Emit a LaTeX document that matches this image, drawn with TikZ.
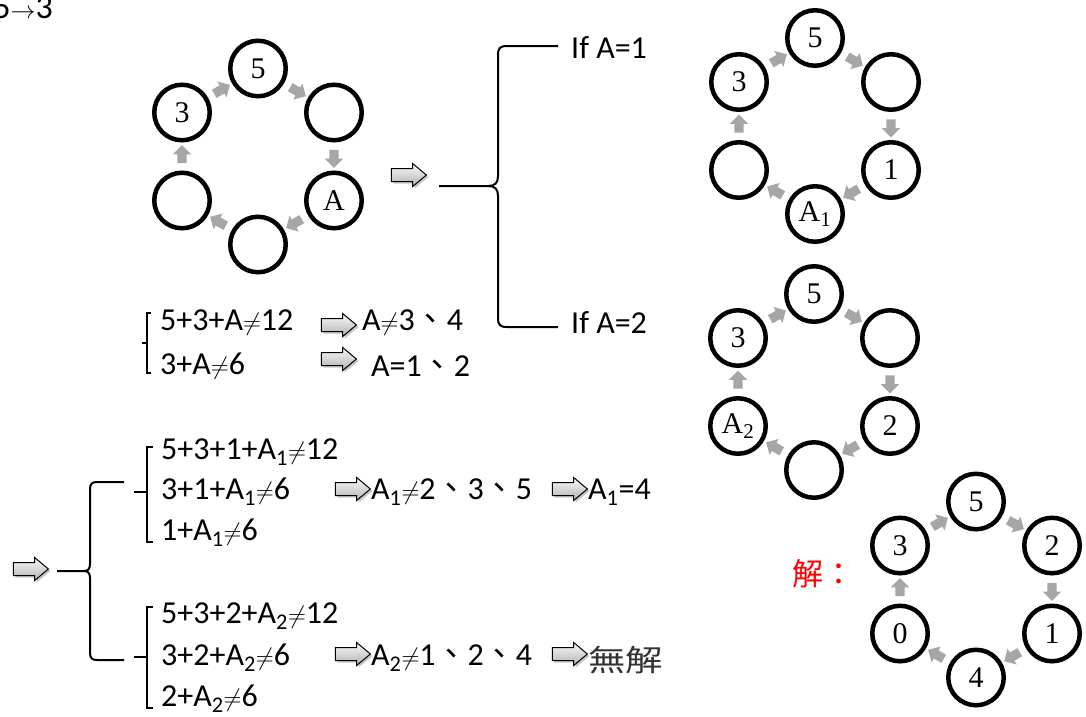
\documentclass[tikz,border=0pt]{standalone}
\usepackage{fontspec}
\usepackage{graphicx}
\setmainfont{Carlito}
\newfontfamily\ringfont{Liberation Serif}
\newfontfamily\cjk{Noto Sans CJK TC}
\usetikzlibrary{shapes.arrows,shadows,calc}
\definecolor{arrowgray}{HTML}{A6A6A6}
\newcommand\nq{\ensuremath{\neq}}
\newcommand\dun{{\cjk 、}}
\tikzset{
  ring/.style={circle, draw, line width=4.5pt, minimum size=55.5pt, inner sep=0pt,
    font=\ringfont\fontsize{30}{30}\selectfont},
  sarr/.style={single arrow, fill=arrowgray, draw=none, inner sep=4.5pt, minimum width=17pt,
    minimum height=18pt, single arrow head extend=4.5pt, sloped, allow upside down, anchor=center},
  bigarr/.style={single arrow, draw=black, line width=1pt, top color=gray!5, bottom color=gray!60,
    inner sep=6pt, minimum width=22pt, minimum height=35pt, single arrow head extend=5pt, single arrow tip angle=80,
    drop shadow={shadow xshift=2pt, shadow yshift=-2pt, opacity=0.45}},
  txt/.style={anchor=west, inner sep=0pt, font=\fontsize{32}{32}\selectfont},
  brace/.style={draw, line width=2pt},
}
\newcommand\hexring[8]{%
  \begin{scope}[shift={#2}]
    \node[ring] (#1t)  at (0,-88)    {#3};
    \node[ring] (#1ur) at (76,-44)   {#4};
    \node[ring] (#1lr) at (76,44)    {#5};
    \node[ring] (#1b)  at (0,88)     {#6};
    \node[ring] (#1ll) at (-76,44)   {#7};
    \node[ring] (#1ul) at (-76,-44)  {#8};
  \end{scope}
  \path (#1ul) -- node[sarr]{} (#1t);
  \path (#1t)  -- node[sarr]{} (#1ur);
  \path (#1ur) -- node[sarr]{} (#1lr);
  \path (#1lr) -- node[sarr]{} (#1b);
  \path (#1b)  -- node[sarr]{} (#1ll);
  \path (#1ll) -- node[sarr]{} (#1ul);
}
\begin{document}
\begin{tikzpicture}[x=1pt,y=-1pt]
\useasboundingbox (0,0) rectangle (1086,716);

% top-left cut text
\node[txt, anchor=base east, font=\fontsize{34}{34}\selectfont] (topt) at (53,18) {5$\to$3};

% rings
\hexring{ra}{(258,156.5)}{5}{}{A}{}{}{3}
\hexring{rb}{(815,126)}{5}{}{1}{A\textsubscript{1}}{}{3}
\hexring{rc}{(814,382)}{5}{}{2}{}{A\textsubscript{2}}{3}
\hexring{rd}{(976,589.5)}{5}{2}{1}{4}{0}{3}

% arrow after first ring and big brace
\node[bigarr] (a0) at (405,175) {};
\node[txt] (ifa1) at (571,48) {If A=1};
\node[txt] (ifa2) at (571,323) {If A=2};
\coordinate (bs1) at (439,186);
\draw[brace] (bs1) -- (488,186) .. controls (495,186) and (498,183) .. (498,176) -- (498,55)
  .. controls (498,48) and (500,46) .. (507,46) -- ($(ifa1.west)+(-13,-2)$);
\draw[brace] (488,186) .. controls (495,186) and (498,189) .. (498,196) -- (498,318)
  .. controls (498,325) and (500,327) .. (507,327) -- ($(ifa2.west)+(-13,4)$);

% first equation block
\node[txt] (e1) at (160,323) {5+3+A\nq12};
\node[txt] (e2) at (160,366) {3+A\nq6};
\draw[brace] (151,313) -- (147,313) -- (147,373) -- (151,373);
\draw[brace] (142,343) -- (147,343);
\node[bigarr] (a1) at (335,325) {};
\node[bigarr] (a2) at (335,359) {};
\node[txt] (r1) at (362,323) {A\nq3\dun4};
\node[txt] (r2) at (371,366) {A=1\dun2};

% lower block
\node[bigarr] (aL) at (27,569) {};
\coordinate (bs2) at (57,571);
\draw[brace] (bs2) -- (84,571) .. controls (88,571) and (90,569) .. (90,564) -- (90,489)
  .. controls (90,484) and (92,482) .. (97,482) -- (124,482);
\draw[brace] (84,571) .. controls (88,571) and (90,573) .. (90,578) -- (90,653)
  .. controls (90,658) and (92,660) .. (97,660) -- (124,660);

\node[txt] (l1) at (161,452) {5+3+1+A\textsubscript{1}\nq12};
\node[txt] (l2) at (161,492) {3+1+A\textsubscript{1}\nq6};
\node[txt] (l3) at (161,533) {1+A\textsubscript{1}\nq6};
\node[txt] (l4) at (161,616) {5+3+2+A\textsubscript{2}\nq12};
\node[txt] (l5) at (161,658) {3+2+A\textsubscript{2}\nq6};
\node[txt] (l6) at (161,699) {2+A\textsubscript{2}\nq6};

\draw[brace] (153,447) -- (147,447) -- (147,542) -- (153,542);
\draw[brace] (134,492) -- (147,492);
\draw[brace] (153,607) -- (147,607) -- (147,708) -- (153,708);
\draw[brace] (134,657) -- (147,657);

\node[bigarr] (b1) at (349,489) {};
\node[txt] (m1) at (371,492) {A\textsubscript{1}\nq2\dun3\dun5};
\node[bigarr] (b2) at (566,489) {};
\node[txt] (s1) at (588,492) {A\textsubscript{1}=4};

\node[bigarr] (b3) at (349,654) {};
\node[txt] (m2) at (371,658) {A\textsubscript{2}\nq1\dun2\dun4};
\node[bigarr] (b4) at (566,654) {};
\node[txt, text=black!80, font=\cjk\fontsize{30}{30}\selectfont] (s2) at (588,660) {\scalebox{1.25}[1]{無解}};

\node[txt, text=red, font=\cjk\fontsize{31}{31}\selectfont] (jie) at (792,574) {解：};
\end{tikzpicture}
\end{document}
